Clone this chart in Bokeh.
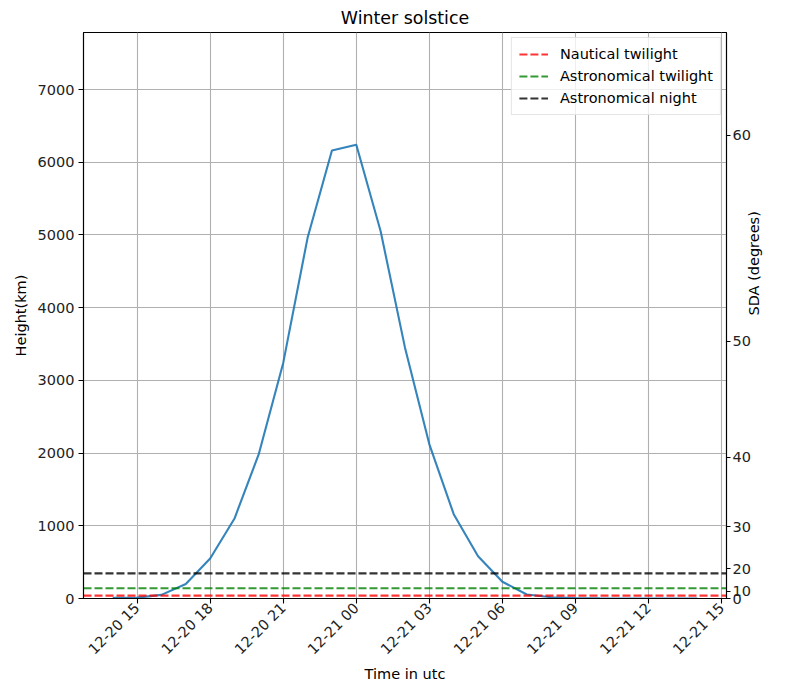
import math
import pandas as pd
from bokeh.plotting import figure
from bokeh.models import (Range1d, LinearAxis, FixedTicker, DatetimeTickFormatter,
                          Legend, LegendItem)
from bokeh.embed import file_html
from bokeh.resources import INLINE

# ---- data ----
times = ["2021-12-20 14:00", "2021-12-20 15:00", "2021-12-20 16:00", "2021-12-20 17:00",
         "2021-12-20 18:00", "2021-12-20 19:00", "2021-12-20 20:00", "2021-12-20 21:00",
         "2021-12-20 22:00", "2021-12-20 23:00", "2021-12-21 00:00", "2021-12-21 01:00",
         "2021-12-21 02:00", "2021-12-21 03:00", "2021-12-21 04:00", "2021-12-21 05:00",
         "2021-12-21 06:00", "2021-12-21 07:00", "2021-12-21 08:00", "2021-12-21 09:00",
         "2021-12-21 10:00", "2021-12-21 11:00", "2021-12-21 12:00", "2021-12-21 13:00",
         "2021-12-21 14:00"]
heights_km = [8, 12, 50, 200, 550, 1100, 1990, 3240, 4960, 6160, 6240, 5050, 3450,
              2120, 1160, 580, 230, 55, 18, 6, 2, 1, 1, 1, 1]

twilight_names = ["Nautical twilight", "Astronomical twilight", "Astronomical night"]
twilight_heights = [40, 140, 345]
twilight_colors = ["red", "green", "black"]

x_tick_labels = ["2021-12-20 15:00", "2021-12-20 18:00", "2021-12-20 21:00",
                 "2021-12-21 00:00", "2021-12-21 03:00", "2021-12-21 06:00",
                 "2021-12-21 09:00", "2021-12-21 12:00", "2021-12-21 15:00"]
sda_ticks_deg = [0, 10, 20, 30, 40, 50, 60]
earth_radius_km = 6371.0

FONT = "DejaVu Sans"
FS = "14.5px"

x = pd.to_datetime(times)
t0 = x[0]
t1 = x[-1]
span = t1 - t0
x_start = t0 - span * 0.05
x_end = t1 + span * 0.05

p = figure(width=772, height=684, x_axis_type="datetime",
           x_range=Range1d(x_start, x_end), y_range=Range1d(0, 7784),
           output_backend="svg", toolbar_location=None,
           min_border_left=83, min_border_right=30, min_border_top=25, min_border_bottom=70)

p.title.text = "Winter solstice"
p.title.align = "center"
p.title.text_font = FONT
p.title.text_font_size = "17.4px"
p.title.text_font_style = "normal"
p.title.text_color = "black"

p.outline_line_color = "black"
p.outline_line_width = 1.1
p.background_fill_color = "white"
p.border_fill_color = "white"

p.line(x, heights_km, line_color="#1f77b4", line_width=2.1, line_alpha=0.9)

items = []
for name, h, c in zip(twilight_names, twilight_heights, twilight_colors):
    r = p.line([x_start, x_end], [h, h], line_color=c, line_alpha=0.8,
               line_width=2.1, line_dash="8 3")
    items.append(LegendItem(label=name, renderers=[r]))

legend = Legend(items=items, location="top_right")
legend.label_text_font = FONT
legend.label_text_font_size = FS
legend.label_text_color = "black"
legend.margin = 5
legend.padding = 7
legend.spacing = 4
legend.glyph_width = 29
legend.glyph_height = 18
legend.label_height = 18
legend.label_standoff = 12
legend.border_line_color = "#cccccc"
legend.border_line_width = 1
legend.background_fill_alpha = 0.8
p.add_layout(legend)

# x axis
xa = p.xaxis[0]
xa.ticker = FixedTicker(ticks=[pd.Timestamp(t).value // 10**6 for t in x_tick_labels])
fmt = "%m-%d %H"
xa.formatter = DatetimeTickFormatter(hours=fmt, hourmin=fmt, days=fmt, minutes=fmt,
                                     minsec=fmt, seconds=fmt, months=fmt, years=fmt)
xa.major_label_orientation = math.pi / 4
xa.axis_label = "Time in utc"

# left axis
ya = p.yaxis[0]
ya.ticker = FixedTicker(ticks=[0, 1000, 2000, 3000, 4000, 5000, 6000, 7000])
ya.axis_label = "Height(km)"

# right axis: SDA degrees mapped to shadow height
sda_heights = [earth_radius_km * (1.0 / math.cos(math.radians(d)) - 1.0) for d in sda_ticks_deg]
ra = LinearAxis(ticker=FixedTicker(ticks=sda_heights),
                major_label_overrides={h: str(d) for h, d in zip(sda_heights, sda_ticks_deg)},
                axis_label="SDA (degrees)")
p.add_layout(ra, "right")

for ax in [xa, ya, ra]:
    ax.axis_line_color = "black"
    ax.axis_line_width = 1.1
    ax.major_tick_line_color = "black"
    ax.major_tick_line_width = 1.1
    ax.major_tick_out = 5
    ax.major_tick_in = 0
    ax.minor_tick_line_color = None
    ax.major_label_text_font = FONT
    ax.major_label_text_font_size = FS
    ax.major_label_text_color = "#222222"
    ax.major_label_standoff = 4
    ax.axis_label_text_font = FONT
    ax.axis_label_text_font_size = FS
    ax.axis_label_text_font_style = "normal"
    ax.axis_label_text_color = "black"
    ax.axis_label_standoff = 6
xa.major_label_standoff = 2
xa.axis_label_standoff = 0
ra.major_tick_out = 4
ra.major_label_standoff = 2
ra.axis_label_standoff = 0
if "axis_label_orientation" in ra.properties():
    ra.axis_label_orientation = math.pi / 2

p.xgrid.ticker = xa.ticker
p.ygrid.ticker = ya.ticker
for g in [p.xgrid[0], p.ygrid[0]]:
    g.grid_line_color = "#b0b0b0"
    g.grid_line_width = 1.1

open("out.html", "w").write(file_html(p, INLINE))
